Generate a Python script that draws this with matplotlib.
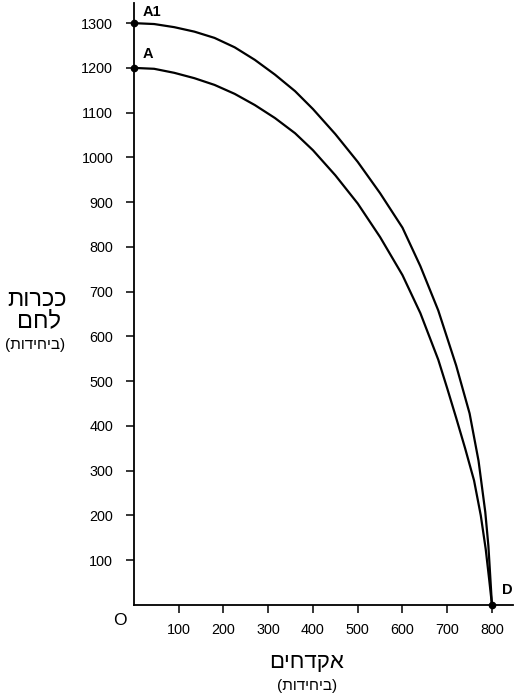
import numpy as np
import matplotlib
matplotlib.use("Agg")
import matplotlib.pyplot as plt

plt.rcParams['font.family'] = ['Liberation Sans', 'DejaVu Sans']

# PPF curves (units)
guns_a = [0, 45, 90, 135, 180, 225, 270, 315, 360, 400, 450, 500, 550,
          600, 640, 680, 700, 720, 740, 760, 775, 786, 794, 800]
bread_a = [1200, 1198, 1189, 1177, 1162, 1142, 1117, 1088, 1054, 1016, 960, 897, 822,
           737, 652, 548, 484, 418, 350, 278, 200, 125, 55, 0]

guns_a1 = [0, 45, 90, 135, 180, 225, 270, 315, 360, 400, 450, 500, 550,
           600, 640, 680, 720, 750, 770, 785, 792, 796, 800]
bread_a1 = [1300, 1298, 1291, 1281, 1267, 1246, 1218, 1185, 1148, 1108, 1052, 990, 920,
            843, 757, 658, 535, 428, 322, 208, 132, 66, 0]

point_names = ['A1', 'A', 'D']
point_x = [0, 0, 800]
point_y = [1300, 1200, 0]

x_ticks = [100, 200, 300, 400, 500, 600, 700, 800]
y_ticks = [100, 200, 300, 400, 500, 600, 700, 800, 900, 1000, 1100, 1200, 1300]

# hebrew strings are given in visual (left to right) order
y_title = ['תורככ', 'םחל']
x_title = 'םיחדקא'
units = '(תודיחיב)'

W, H = 517, 698
fig = plt.figure(figsize=(W / 100, H / 100), dpi=100)
ax = fig.add_axes([134 / W, 93 / H, 379 / W, 602 / H])

def fx(px):
    return px / W

def fy(py):
    return 1 - py / H

ax.plot(guns_a, bread_a, color='black', lw=1.6, solid_capstyle='round', solid_joinstyle='round')
ax.plot(guns_a1, bread_a1, color='black', lw=1.6, solid_capstyle='round', solid_joinstyle='round')
ax.plot(point_x, point_y, 'o', color='black', ms=4.5, clip_on=False, zorder=5)

ax.set_xlim(0, 847)
ax.set_ylim(0, 1345)
ax.set_xticks(x_ticks)
ax.set_yticks(y_ticks)
ax.tick_params(direction='out', length=6, width=1.1, labelsize=10.4, color='black')
ax.tick_params(axis='x', pad=7)
ax.tick_params(axis='y', pad=9)

for s in ['top', 'right']:
    ax.spines[s].set_visible(False)
for s in ['left', 'bottom']:
    ax.spines[s].set_linewidth(1.3)

# point labels
ax.text(20, 1317, point_names[0], fontsize=10.5, fontweight='bold', va='baseline', ha='left')
ax.text(20, 1222, point_names[1], fontsize=10.5, fontweight='bold', va='baseline', ha='left')
ax.text(823, 25, point_names[2], fontsize=10.5, fontweight='bold', va='baseline', ha='left')

fig.text(fx(119.5), fy(620.5), 'O', fontsize=12.5, ha='center', va='center')

# axis titles
fig.text(fx(37), fy(300), y_title[0], fontsize=17, ha='center', va='center')
fig.text(fx(39), fy(321), y_title[1], fontsize=17, ha='center', va='center')
fig.text(fx(35), fy(345), units, fontsize=11, ha='center', va='center')

fig.text(fx(307), fy(662), x_title, fontsize=16, ha='center', va='center')
fig.text(fx(307), fy(686), units, fontsize=11, ha='center', va='center')

fig.savefig('out.png', dpi=100)
